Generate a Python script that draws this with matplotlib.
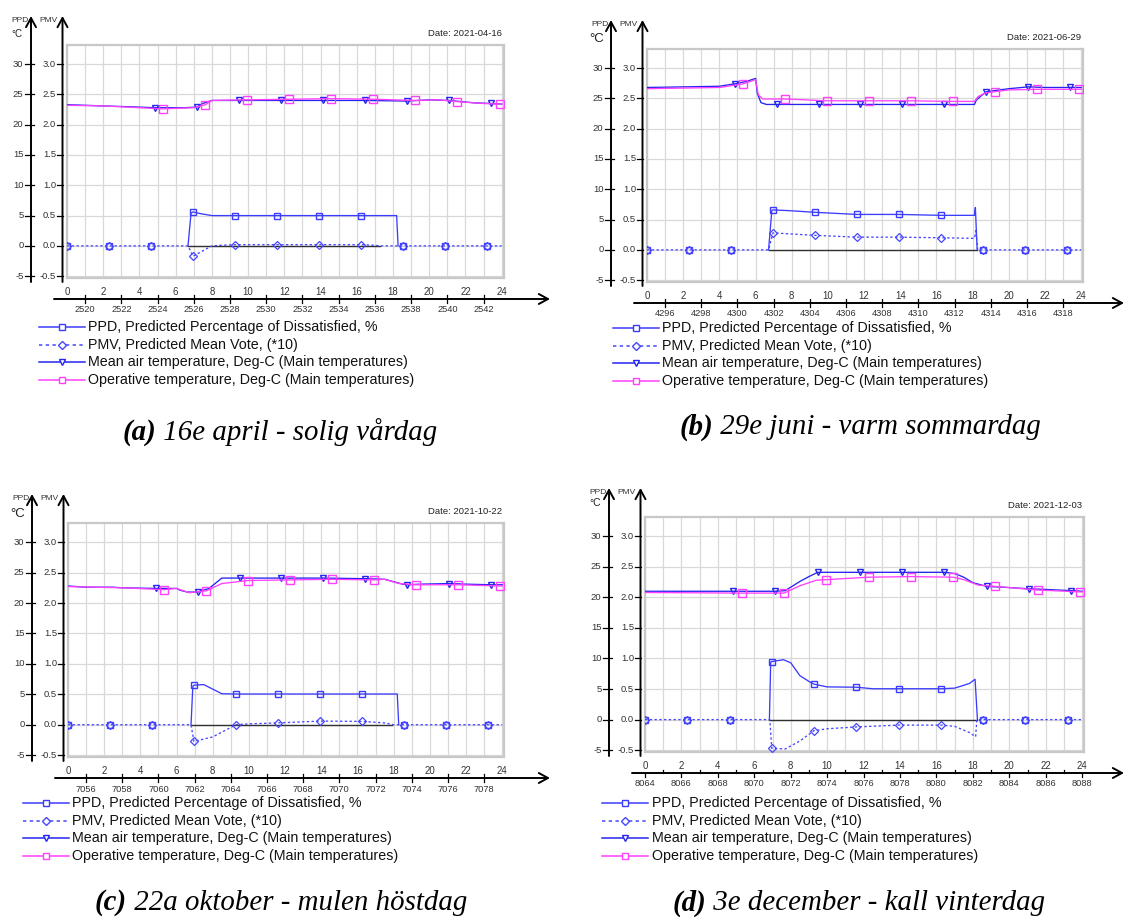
import numpy as np
import matplotlib
matplotlib.use("Agg")
import matplotlib.pyplot as plt

W, H = 1126, 917

# hours where the markers sit (the tool puts one about every 2.3 h)
MARK_PPD = [0, 2.32, 4.64, 6.96, 9.28, 11.6, 13.92, 16.24, 18.56, 20.88, 23.2]
MARK_AIR = [4.84, 7.16, 9.48, 11.8, 14.12, 16.44, 18.76, 21.08, 23.4]
MARK_OP = [5.32, 7.64, 9.96, 12.28, 14.6, 16.92, 19.24, 21.56, 23.88]

DATES = ["Date: 2021-04-16", "Date: 2021-06-29", "Date: 2021-10-22", "Date: 2021-12-03"]
TAGS = ["(a)", "(b)", "(c)", "(d)"]
CAPTIONS = ["16e april - solig vårdag", "29e juni - varm sommardag",
            "22a oktober - mulen höstdag", "3e december - kall vinterdag"]
# hour-of-year label at the first lower tick, and the hour of day it sits at
YEAR_HOUR0 = [2520, 4296, 7056, 8064]
YEAR_TICK0 = [1, 1, 1, 0]

LEGEND_LABELS = ["PPD, Predicted Percentage of Dissatisfied, %",
                 "PMV, Predicted Mean Vote, (*10)",
                 "Mean air temperature, Deg-C (Main temperatures)",
                 "Operative temperature, Deg-C (Main temperatures)"]

PPD_TICKS = [-5, 0, 5, 10, 15, 20, 25, 30]
PMV_TICKS = ["-0.5", "0.0", "0.5", "1.0", "1.5", "2.0", "2.5", "3.0"]
HOUR_LABELS = list(range(0, 25, 2))

# ---- (a) 16 april ----
AIR_H_A = [0, 2, 4, 4.84, 6.5, 7.16, 7.5, 8.0, 9.48, 11.8, 14.12, 16.44, 18.76, 20.0, 21.08, 22.5, 23.4, 24]
AIR_A = [23.3, 23.1, 22.9, 22.8, 22.8, 22.9, 23.5, 24.0, 24.0, 24.0, 24.0, 24.0, 23.9, 24.1, 24.0, 23.6, 23.5, 23.4]
OP_H_A = [0, 2, 4, 5.32, 6.0, 7.0, 7.64, 8.0, 9.96, 12.28, 14.6, 16.92, 19.24, 20.5, 21.56, 23.0, 23.88, 24]
OP_A = [23.2, 23.1, 22.8, 22.6, 22.7, 22.8, 23.3, 24.0, 24.1, 24.2, 24.3, 24.2, 24.0, 24.1, 23.8, 23.5, 23.4, 23.4]
PPD_H_A = [0, 2.32, 4.64, 6.68, 6.85, 6.96, 7.4, 8.0, 9.28, 11.6, 13.92, 16.24, 18.2, 18.28, 18.56, 20.88, 23.2, 24]
PPD_A = [0, 0, 0, 0, 5.4, 5.6, 5.3, 5.0, 5.0, 5.0, 5.0, 5.0, 5.0, 0, 0, 0, 0, 0]
PMV_H_A = [0, 2.32, 4.64, 6.68, 6.96, 8.0, 8.5, 9.28, 11.6, 13.92, 16.24, 17.0, 17.3, 18.56, 20.88, 23.2, 24]
PMV_A = [0, 0, 0, 0, -1.7, 0, 0.1, 0.2, 0.2, 0.2, 0.2, 0.1, 0, 0, 0, 0, 0]
SPAN_A = (6.68, 18.28)
ZERO_A = (6.68, 17.3)

# ---- (b) 29 juni ----
AIR_H_B = [0, 2, 4, 4.84, 5.5, 6.0, 6.1, 6.3, 6.6, 7.16, 9.48, 11.8, 14.12, 16.44, 18.1, 18.2, 18.5, 18.76, 20.0, 21.08, 22.0, 23.4, 24]
AIR_B = [26.8, 26.9, 27.0, 27.4, 27.8, 28.3, 25.8, 24.3, 24.0, 24.0, 24.0, 24.0, 24.0, 24.0, 24.0, 24.7, 25.5, 26.1, 26.6, 26.9, 26.8, 26.8, 26.8]
OP_H_B = [0, 2, 4, 5.32, 6.0, 6.15, 6.4, 7.64, 9.96, 12.28, 14.6, 16.92, 18.1, 18.3, 18.7, 19.24, 20.0, 21.56, 23.88, 24]
OP_B = [26.6, 26.7, 26.8, 27.4, 28.1, 25.6, 24.9, 24.9, 24.6, 24.6, 24.6, 24.5, 24.5, 25.3, 25.9, 26.1, 26.4, 26.5, 26.5, 26.5]
PPD_H_B = [0, 2.32, 4.64, 6.72, 6.9, 6.96, 8.0, 9.28, 11.6, 13.92, 16.24, 18.1, 18.15, 18.25, 18.56, 20.88, 23.2, 24]
PPD_B = [0, 0, 0, 0, 6.5, 6.6, 6.45, 6.2, 5.85, 5.85, 5.7, 5.7, 7.0, 0, 0, 0, 0, 0]
PMV_H_B = [0, 2.32, 4.64, 6.72, 6.96, 9.28, 11.6, 13.92, 16.24, 18.1, 18.18, 18.28, 18.56, 20.88, 23.2, 24]
PMV_B = [0, 0, 0, 0, 2.8, 2.4, 2.1, 2.1, 2.0, 1.9, 3.2, 0, 0, 0, 0, 0]
SPAN_B = (6.72, 18.25)
ZERO_B = (6.72, 18.25)

# ---- (c) 22 oktober ----
AIR_H_C = [0, 1, 2.5, 3, 4.84, 6.0, 6.2, 6.6, 7.16, 7.8, 8.5, 9.48, 11.8, 14.12, 16.44, 17.5, 18.0, 18.5, 18.76, 19.5, 21.08, 22.0, 23.4, 24]
AIR_C = [22.8, 22.6, 22.6, 22.5, 22.4, 22.4, 22.1, 21.8, 21.8, 22.4, 24.1, 24.1, 24.1, 24.1, 24.0, 23.9, 23.5, 23.1, 23.0, 23.1, 23.2, 23.1, 23.0, 23.0]
OP_H_C = [0, 3, 5.32, 6.0, 6.7, 7.64, 8.5, 9.96, 12.28, 14.6, 16.92, 17.5, 18.3, 19.24, 21.56, 23.88, 24]
OP_C = [22.7, 22.5, 22.2, 22.4, 21.7, 22.0, 23.2, 23.7, 23.8, 23.9, 23.8, 23.9, 23.2, 23.0, 23.0, 22.8, 22.8]
PPD_H_C = [0, 2.32, 4.64, 6.8, 6.9, 6.96, 7.5, 8.5, 9.28, 11.6, 13.92, 16.24, 18.2, 18.28, 18.56, 20.88, 23.2, 24]
PPD_C = [0, 0, 0, 0, 6.3, 6.5, 6.6, 5.1, 5.05, 5.05, 5.05, 5.05, 5.05, 0, 0, 0, 0, 0]
PMV_H_C = [0, 2.32, 4.64, 6.8, 6.96, 8.0, 9.28, 10.0, 11.6, 13.92, 16.24, 17.5, 18.0, 18.56, 20.88, 23.2, 24]
PMV_C = [0, 0, 0, 0, -2.75, -2.0, 0.0, 0.15, 0.3, 0.6, 0.55, 0.3, 0, 0, 0, 0, 0]
SPAN_C = (6.8, 18.28)
ZERO_C = (6.8, 17.9)

# ---- (d) 3 december ----
AIR_H_D = [0, 4.84, 6.0, 7.16, 7.7, 8.5, 9.0, 9.48, 11.8, 14.12, 16.44, 17.0, 17.5, 18.0, 18.76, 20.0, 21.08, 22.0, 23.4, 24]
AIR_D = [21.0, 21.0, 21.0, 21.0, 21.1, 22.6, 23.4, 24.1, 24.1, 24.1, 24.1, 23.9, 23.3, 22.4, 21.8, 21.6, 21.4, 21.3, 21.1, 21.0]
OP_H_D = [0, 5.32, 7.64, 8.5, 9.4, 9.96, 12.28, 14.6, 16.92, 17.5, 18.3, 19.24, 21.56, 23.88, 24]
OP_D = [20.8, 20.7, 20.7, 21.9, 22.8, 22.9, 23.3, 23.4, 23.3, 22.9, 22.0, 21.8, 21.2, 20.9, 20.9]
PPD_H_D = [0, 2.32, 4.64, 6.83, 6.9, 6.96, 7.6, 8.0, 8.5, 9.0, 9.28, 10.0, 11.6, 12.5, 13.92, 16.24, 17.0, 17.8, 18.12, 18.25, 18.56, 20.88, 23.2, 24]
PPD_D = [0, 0, 0, 0, 9.4, 9.5, 9.8, 9.3, 7.2, 6.25, 5.8, 5.35, 5.3, 5.05, 5.05, 5.05, 5.15, 5.9, 6.6, 0, 0, 0, 0, 0]
PMV_H_D = [0, 2.32, 4.64, 6.85, 6.96, 7.7, 8.5, 9.28, 10.0, 11.6, 13.92, 16.24, 17.0, 17.8, 18.15, 18.22, 18.56, 20.88, 23.2, 24]
PMV_D = [0, 0, 0, 0, -4.7, -4.8, -3.5, -1.8, -1.5, -1.2, -0.9, -0.9, -1.1, -2.1, -2.8, 0, 0, 0, 0, 0]
SPAN_D = (6.83, 18.25)
ZERO_D = (6.83, 18.25)

PANELS = [
    (AIR_H_A, AIR_A, OP_H_A, OP_A, PPD_H_A, PPD_A, PMV_H_A, PMV_A, SPAN_A, ZERO_A),
    (AIR_H_B, AIR_B, OP_H_B, OP_B, PPD_H_B, PPD_B, PMV_H_B, PMV_B, SPAN_B, ZERO_B),
    (AIR_H_C, AIR_C, OP_H_C, OP_C, PPD_H_C, PPD_C, PMV_H_C, PMV_C, SPAN_C, ZERO_C),
    (AIR_H_D, AIR_D, OP_H_D, OP_D, PPD_H_D, PPD_D, PMV_H_D, PMV_D, SPAN_D, ZERO_D),
]

# layout in pixels (left, top, right, bottom of the grey plot frame)
BOX = [(67, 45, 503.5, 278), (647, 49, 1083, 282), (68, 523, 504, 757), (645, 517, 1084, 752)]
LEG = [(39, 327), (613, 328), (23, 803), (602, 803)]
CAP = [(280, 432), (860, 427), (281, 903), (859, 903)]
DEGC = [(7, 18), (9.5, 19), (9.5, 20), (7.5, 15)]
X_TIP = [550, 1124, 550, 1124]

C_PPD = "#3c3cff"
C_PMV = "#4646ff"
C_AIR = "#2424f0"
C_OP = "#ff40ff"
GRID = "#d8d8d8"
FRAME = "#c8c8c8"
TXT = "#333333"
SANS = "Liberation Sans"
SERIF = "Liberation Serif"
DOTS = (0, (1.8, 1.8))

fig = plt.figure(figsize=(W / 100, H / 100), dpi=100)


def marks_at(hours, marks):
    return [i for i, h in enumerate(hours) if np.any(np.isclose(h, marks))]


def px_x(ax, h):
    return ax.transData.transform((h, 0))[0]


def px_y(ax, v):
    return H - ax.transData.transform((0, v))[1]


axes = []
for i, (air_h, air, op_h, op, ppd_h, ppd, pmv_h, pmv, span, zero) in enumerate(PANELS):
    l, t, r, b = BOX[i]
    ax = fig.add_axes([l / W, 1 - b / H, (r - l) / W, (b - t) / H])
    ax.set_xlim(0, 24.1)
    ax.set_ylim(-5.3, 33.15)
    ax.set_xticks(np.arange(25))
    ax.set_yticks(PPD_TICKS)
    ax.grid(True, color=GRID, lw=0.9)
    ax.set_axisbelow(True)
    ax.tick_params(length=0, labelbottom=False, labelleft=False)
    for s in ax.spines.values():
        s.set_color(FRAME)
        s.set_linewidth(1.6)

    ax.plot(zero, [0, 0], color="#303030", lw=1.0, zorder=2)

    ppd_h = np.array(ppd_h)
    ppd = np.array(ppd)
    occ = (ppd_h >= span[0] - 1e-9) & (ppd_h <= span[1] + 1e-9)
    ax.plot(ppd_h[occ], ppd[occ], color=C_PPD, lw=0.95, zorder=3)
    ax.plot(ppd_h, ppd, ls="none", marker="s", ms=5, mfc="none", mec=C_PPD,
            mew=1.0, markevery=marks_at(ppd_h, MARK_PPD), zorder=4)
    ax.plot(pmv_h, pmv, color=C_PMV, lw=0.95, ls=DOTS, marker="D",
            ms=3.6, mfc="none", mec=C_PMV, mew=0.9,
            markevery=marks_at(pmv_h, MARK_PPD), zorder=4)
    ax.plot(air_h, air, color=C_AIR, lw=0.95, marker="v", ms=4.5, mfc="none",
            mec=C_AIR, mew=1.0, markevery=marks_at(air_h, MARK_AIR), zorder=3)
    ax.plot(op_h, op, color=C_OP, lw=0.95, marker="s", ms=5.5, mfc="none",
            mec=C_OP, mew=1.0, markevery=marks_at(op_h, MARK_OP), zorder=4)
    axes.append(ax)

# overlay in pixel coordinates for the hand-drawn axes, legends and captions
ov = fig.add_axes([0, 0, 1, 1])
ov.set_xlim(0, W)
ov.set_ylim(H, 0)
ov.axis("off")
ov.patch.set_visible(False)

arrow = dict(arrowstyle="->,head_length=0.55,head_width=0.3", color="black",
             lw=1.4, shrinkA=0, shrinkB=0, mutation_scale=12)

for i, ax in enumerate(axes):
    l, t, r, b = BOX[i]
    ppd_x = l - 36
    pmv_x = l - 4.5
    tip = t - 29
    for x in (ppd_x, pmv_x):
        ov.annotate("", xy=(x, tip), xytext=(x, b + 4), arrowprops=arrow)
    ov.text(ppd_x - 2, tip + 5, "PPD", ha="right", va="center", fontsize=6.0,
            family=SANS, color=TXT)
    ov.text(pmv_x - 5, tip + 5, "PMV", ha="right", va="center", fontsize=6.0,
            family=SANS, color=TXT)
    size, dy = DEGC[i]
    ov.text(ppd_x - 14, tip + dy, "°C", ha="center", va="center", fontsize=size,
            family=SANS, color="#222222")
    for v, lab in zip(PPD_TICKS, PMV_TICKS):
        y = px_y(ax, v)
        ov.plot([ppd_x - 6.5, ppd_x + 3], [y, y], color="black", lw=0.9)
        ov.plot([pmv_x - 5.5, pmv_x], [y, y], color="black", lw=0.9)
        ov.text(ppd_x - 7.5, y, str(v), ha="right", va="center", fontsize=6.8,
                family=SANS, color=TXT)
        ov.text(pmv_x - 6.5, y, lab, ha="right", va="center", fontsize=6.8,
                family=SANS, color=TXT)

    ov.text(r - 2, t - 11, DATES[i], ha="right", va="center", fontsize=6.8,
            family=SANS, color="#222222")

    # time axis with hour of day above and hour of year below
    yl = b + 21
    ov.annotate("", xy=(X_TIP[i], yl), xytext=(l - 13, yl), arrowprops=arrow)
    for h in HOUR_LABELS:
        ov.text(px_x(ax, h), yl - 7, str(h), ha="center", va="center",
                fontsize=6.9, family=SANS, color=TXT)
    h = YEAR_TICK0[i]
    n = YEAR_HOUR0[i]
    while h <= 24:
        x = px_x(ax, h)
        if YEAR_TICK0[i] == 0:
            ov.plot([x, x], [yl, yl + 4], color="black", lw=0.9)
            if h < 24:
                xo = px_x(ax, h + 1)
                ov.plot([xo, xo], [yl - 3, yl], color="black", lw=0.9)
        else:
            ov.plot([x, x], [yl - 4, yl + 4], color="black", lw=0.9)
        ov.text(x, yl + 11, str(n), ha="center", va="center", fontsize=6.7,
                family=SANS, color=TXT)
        h += 2
        n += 2

    # legend under each chart
    lx, ly = LEG[i]
    styles = [(C_PPD, "-", "s", 4.5), (C_PMV, (0, (2.2, 2.2)), "D", 3.8),
              (C_AIR, "-", "v", 4.2), (C_OP, "-", "s", 4.5)]
    for k, (lab, (c, ls, m, ms)) in enumerate(zip(LEGEND_LABELS, styles)):
        y = ly + k * 17.7
        ov.plot([lx, lx + 46], [y, y], color=c, ls=ls, lw=1.1)
        ov.plot([lx + 23], [y], marker=m, ms=ms, mfc="white", mec=c, mew=1.0)
        ov.text(lx + 49.5, y, lab, ha="left", va="center", fontsize=10.3,
                family=SANS, color="#111111")

# captions: bold italic tag followed by italic text, centred under each chart
renderer = fig.canvas.get_renderer()
for i in range(4):
    cx, cy = CAP[i]
    t1 = ov.text(cx, cy, TAGS[i], ha="left", va="center", fontsize=20.8,
                 family=SERIF, style="italic", weight="bold")
    t2 = ov.annotate(" " + CAPTIONS[i], xy=(1, 0.5), xycoords=t1, ha="left",
                     va="center", fontsize=20.8, family=SERIF, style="italic")
    w1 = t1.get_window_extent(renderer).width
    w2 = t2.get_window_extent(renderer).width
    t1.set_x(cx - (w1 + w2) / 2)

fig.savefig("out.png", dpi=100)
